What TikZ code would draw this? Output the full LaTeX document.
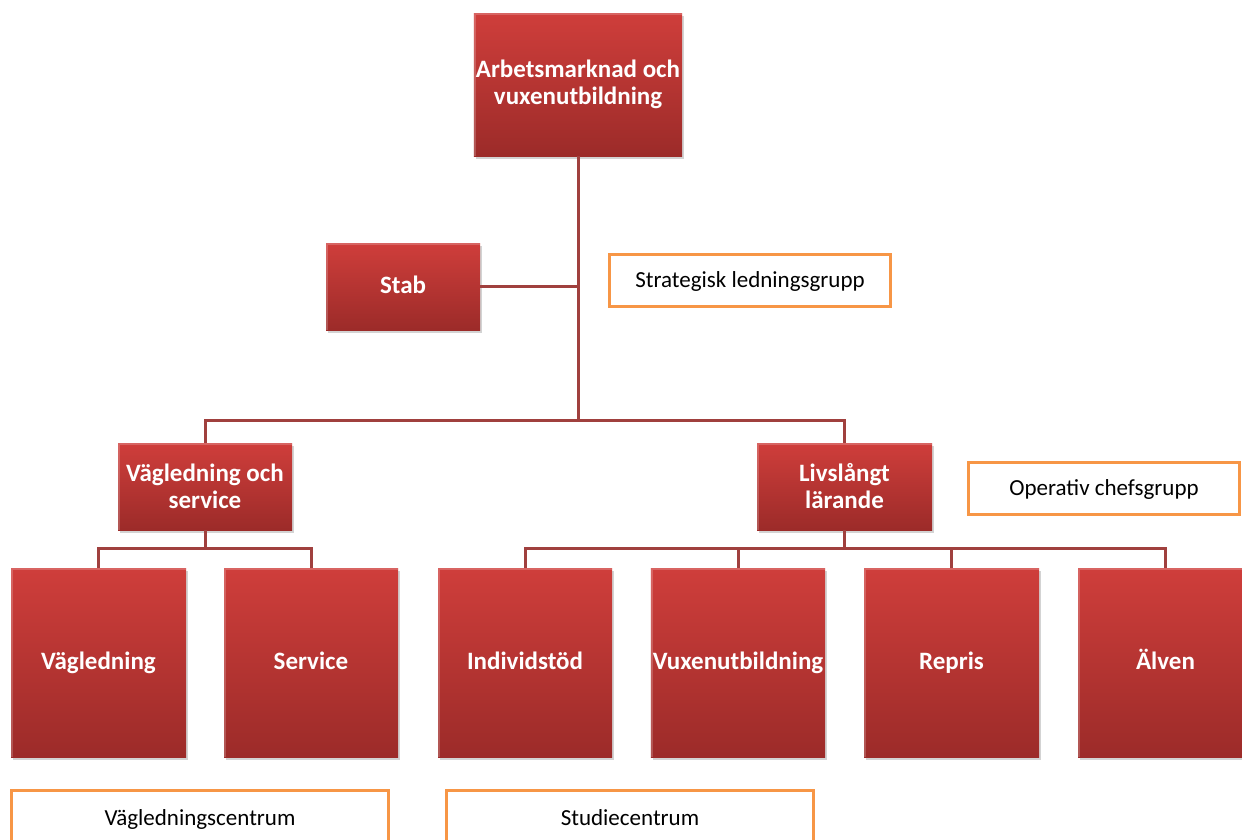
\documentclass[tikz,border=0pt]{standalone}
\usepackage{fontspec}
\setmainfont{Carlito}
\usetikzlibrary{shadows}
\definecolor{boxtop}{HTML}{CF3E3B}
\definecolor{boxbot}{HTML}{9C2B29}
\definecolor{linje}{HTML}{A0403E}
\definecolor{kant}{HTML}{F79646}
\begin{document}
\begin{tikzpicture}[x=1pt, y=-1pt]
            \tikzstyle{enhet}=[rectangle, inner sep=2pt, align=center, text=white,
                font=\fontsize{25}{27}\selectfont\bfseries,
                top color=boxtop, bottom color=boxbot,
                drop shadow={opacity=0.35, shadow xshift=2pt, shadow yshift=-3pt},
                path picture={\draw[white, opacity=0.2, line width=4pt]
                    (path picture bounding box.south west) -- (path picture bounding box.north west)
                    -- (path picture bounding box.north east);}]
            \tikzstyle{rad}=[text height=1.35em, text depth=0pt]
            \tikzstyle{grupp}=[rectangle, draw=kant, line width=3pt, fill=white, align=center,
                font=\fontsize{23}{24}\selectfont, text height=1.45em, text depth=0pt]
            \tikzstyle{gren}=[draw=linje, line width=3pt]

                \useasboundingbox (0,0) rectangle (1242,839);

                % Enheter
                \node[enhet, minimum width=207, minimum height=143] (avux) at (578,84.5) {Arbetsmarknad och\\vuxenutbildning};
                \node[enhet, rad, minimum width=154, minimum height=87] (stab) at (403,286.5) {Stab};
                \node[enhet, minimum width=174, minimum height=87] (vs) at (205,486.5) {Vägledning och\\service};
                \node[enhet, minimum width=175, minimum height=87] (ll) at (844.5,486.5) {Livslångt\\lärande};
                \node[enhet, rad, minimum width=175, minimum height=189] (vag) at (98.5,662.5) {Vägledning};
                \node[enhet, rad, minimum width=174, minimum height=189] (ser) at (311,662.5) {Service};
                \node[enhet, rad, minimum width=174, minimum height=189] (ind) at (525,662.5) {Individstöd};
                \node[enhet, rad, minimum width=174, minimum height=189] (vux) at (738,662.5) {Vuxenutbildning};
                \node[enhet, rad, minimum width=175, minimum height=189] (rep) at (951.5,662.5) {Repris};
                \node[enhet, rad, minimum width=175, minimum height=189] (alv) at (1165.5,662.5) {Älven};

                % Grupper
                \node[grupp, minimum width=281, minimum height=52] (sl) at (750,280.5) {Strategisk ledningsgrupp};
                \node[grupp, minimum width=271, minimum height=52] (oc) at (1104,488.5) {Operativ chefsgrupp};
                \node[grupp, minimum width=377, minimum height=56] (vc) at (200,818) {Vägledningscentrum};
                \node[grupp, minimum width=367, minimum height=56] (sc) at (630,818) {Studiecentrum};

                % Linjer
                \coordinate (nav) at (578,420);
                \coordinate (vsnav) at (205,548);
                \coordinate (llnav) at (844.5,548);
                \draw[gren] (avux) -- (nav);
                \draw[gren] (stab) -- (stab -| nav);
                \draw[gren] (vs) |- (nav) -| (ll);
                \draw[gren] (vs) -- (vsnav);
                \draw[gren] (vag) |- (vsnav) -| (ser);
                \draw[gren] (ll) -- (llnav);
                \draw[gren] (ind) |- (llnav) -| (alv);
                \draw[gren] (vux) |- (llnav);
                \draw[gren] (rep) |- (llnav);
        \end{tikzpicture}
\end{document}
